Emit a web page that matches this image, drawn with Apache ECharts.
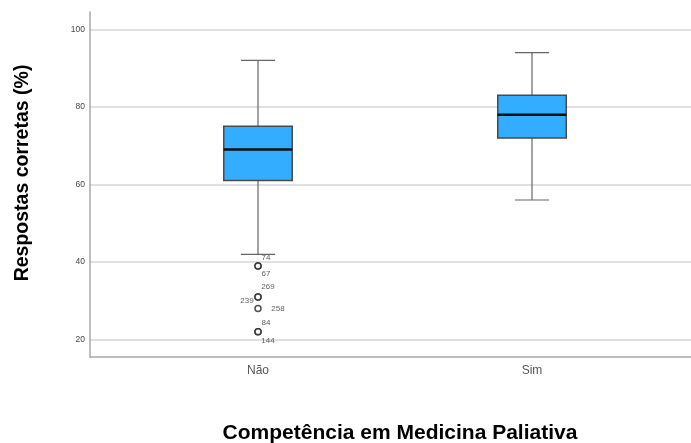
<!DOCTYPE html>
<html>
<head>
<meta charset="utf-8">
<script src="https://cdn.jsdelivr.net/npm/echarts@6/dist/echarts.min.js"></script>
<style>html,body{margin:0;padding:0;background:#fff;}#c{width:691px;height:443px;}</style>
</head>
<body>
<div id="c"></div>
<script>
// ---- data ----
const categories = ['Não', 'Sim'];
const whiskerLow = [42, 56];
const q1 = [61, 72];
const median = [69, 78];
const q3 = [75, 83];
const whiskerHigh = [92, 94];
const outlierCategory = [0, 0, 0, 0, 0, 0, 0];
const outlierValues = [39, 39, 31, 31, 28, 22, 22];
const outlierCases = ['74', '67', '269', '239', '258', '84', '144'];
const yMin = 15.5, yMax = 104.5;
const yTitle = 'Respostas corretas (%)';
const xTitle = 'Competência em Medicina Paliativa';

// ---- styling (label offsets relative to the point) ----
const labelOffsets = {
  '74': [8, -8], '67': [8, 8], '269': [10, -10], '239': [-11, 4],
  '258': [20, 0], '84': [8, -9], '144': [10, 9]
};

const boxData = categories.map((c, i) => [i, whiskerLow[i], q1[i], median[i], q3[i], whiskerHigh[i]]);
const outlierData = outlierValues.map((v, i) => ({
  value: [outlierCategory[i], v],
  label: { offset: labelOffsets[outlierCases[i]] || [8, 0], formatter: outlierCases[i] }
}));

function renderBox(params, api) {
  const x = api.value(0);
  const lo = api.coord([x, api.value(1)]);
  const b1 = api.coord([x, api.value(2)]);
  const md = api.coord([x, api.value(3)]);
  const b3 = api.coord([x, api.value(4)]);
  const hi = api.coord([x, api.value(5)]);
  const band = api.size([1, 0])[0];
  const bw = band * 0.25;
  const cw = bw / 2;
  const cx = lo[0];
  const wStyle = { stroke: '#666666', lineWidth: 1.2 };
  return {
    type: 'group',
    children: [
      { type: 'line', shape: { x1: cx, y1: hi[1], x2: cx, y2: b3[1] }, style: wStyle },
      { type: 'line', shape: { x1: cx, y1: b1[1], x2: cx, y2: lo[1] }, style: wStyle },
      { type: 'line', shape: { x1: cx - cw / 2, y1: hi[1], x2: cx + cw / 2, y2: hi[1] }, style: wStyle },
      { type: 'line', shape: { x1: cx - cw / 2, y1: lo[1], x2: cx + cw / 2, y2: lo[1] }, style: wStyle },
      { type: 'rect', shape: { x: cx - bw / 2, y: b3[1], width: bw, height: b1[1] - b3[1] },
        style: { fill: '#33adff', stroke: '#4a4a4a', lineWidth: 1.5 } },
      { type: 'line', shape: { x1: cx - bw / 2, y1: md[1], x2: cx + bw / 2, y2: md[1] },
        style: { stroke: '#111111', lineWidth: 2.5 } }
    ]
  };
}

const chart = echarts.init(document.getElementById('c'), null, { renderer: 'canvas' });
chart.setOption({
  animation: false,
  backgroundColor: '#ffffff',
  textStyle: { fontFamily: 'Liberation Sans, Arial, sans-serif' },
  grid: [
    { left: 90, right: 0, top: 12, bottom: 86, containLabel: false, outerBoundsMode: 'none' },
    { left: 121, width: 548, top: 12, bottom: 86, containLabel: false, outerBoundsMode: 'none' }
  ],
  graphic: [
    { type: 'text', x: 23, y: 173, rotation: Math.PI / 2, silent: true,
      style: { text: yTitle, fill: '#000000', font: 'bold 19.5px "Liberation Sans", Arial, sans-serif',
        align: 'center', verticalAlign: 'middle' } },
    { type: 'text', x: 400, y: 433, silent: true,
      style: { text: xTitle, fill: '#000000', font: 'bold 21px "Liberation Sans", Arial, sans-serif',
        align: 'center', verticalAlign: 'middle' } }
  ],
  xAxis: [
    { type: 'value', gridIndex: 0, min: 0, max: 1, axisLabel: { show: false }, axisTick: { show: false },
      splitLine: { show: false }, axisLine: { show: true, lineStyle: { color: '#a8a8a8', width: 1.5 } } },
    { type: 'category', gridIndex: 1, data: categories, boundaryGap: true,
      axisLine: { show: false }, axisTick: { show: false },
      axisLabel: { color: '#555555', fontSize: 12, margin: 8 } }
  ],
  yAxis: [
    { type: 'value', gridIndex: 0, min: yMin, max: yMax,
      axisLine: { show: true, lineStyle: { color: '#a8a8a8', width: 1.5 } },
      axisTick: { show: false },
      axisLabel: { color: '#444444', fontSize: 8.5, margin: 5, showMinLabel: false, showMaxLabel: false,
        formatter: v => (v % 20 === 0 ? String(v) : '') },
      splitLine: { show: true, showMinLine: false, showMaxLine: false, lineStyle: { color: '#d6d6d6', width: 1.5 } } },
    { type: 'value', gridIndex: 1, min: yMin, max: yMax, show: false, splitLine: { show: false } }
  ],
  series: [
    { type: 'custom', xAxisIndex: 1, yAxisIndex: 1, renderItem: renderBox, data: boxData, z: 3 },
    { type: 'scatter', xAxisIndex: 1, yAxisIndex: 1, data: outlierData, symbol: 'circle', symbolSize: 6,
      itemStyle: { color: '#ffffff', borderColor: '#222222', borderWidth: 1.5 },
      label: { show: true, position: 'inside', color: '#333333', fontSize: 8 }, z: 4 }
  ]
});
</script>
</body>
</html>
